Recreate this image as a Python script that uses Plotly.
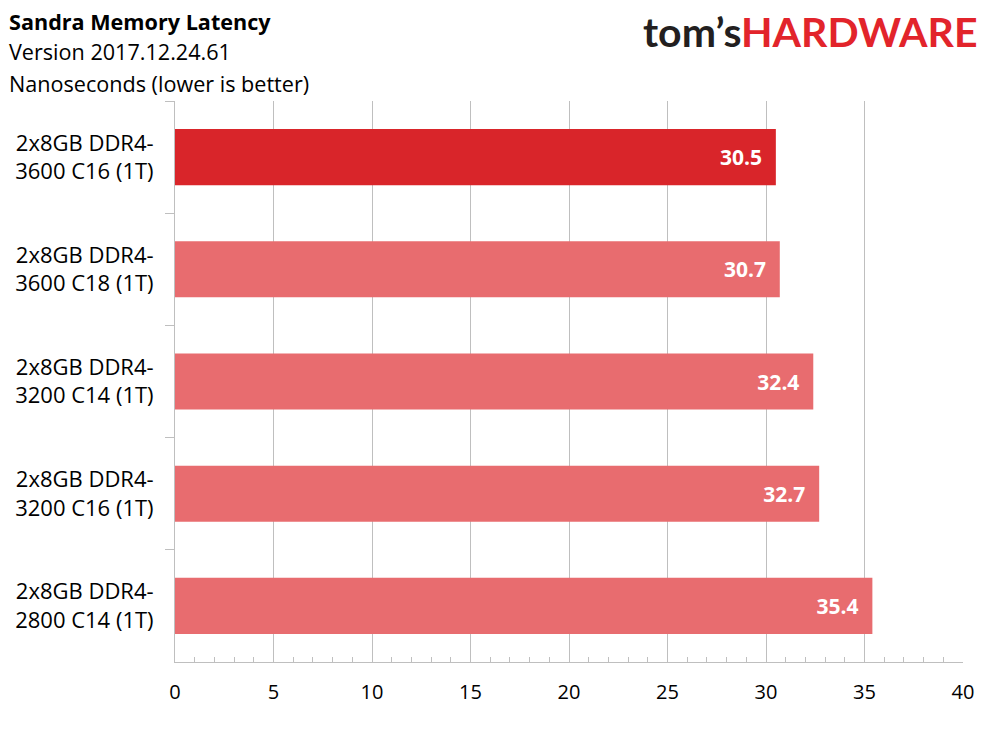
import plotly.graph_objects as go

CATEGORIES = [
    '2x8GB DDR4-<br>3600 C16 (1T)',
    '2x8GB DDR4-<br>3600 C18 (1T)',
    '2x8GB DDR4-<br>3200 C14 (1T)',
    '2x8GB DDR4-<br>3200 C16 (1T)',
    '2x8GB DDR4-<br>2800 C14 (1T)',
]
LATENCY_NS = [30.5, 30.7, 32.4, 32.7, 35.4]
HIGHLIGHT = [True, False, False, False, False]
TITLE_LINES = ['<b>Sandra Memory Latency</b>', 'Version 2017.12.24.61', 'Nanoseconds (lower is better)']

RED = 'rgb(217,37,42)'
PINK = 'rgb(232,108,111)'
GREY = 'rgb(191,191,191)'
FONT = 'Open Sans'

# page body has a small margin, so the margins are shifted to compensate
W, H = 989, 742
OX, OY = 7, 8
ML, MR, MT, MB = 167, 34, 93, 88
PW, PH = W - ML - MR, H - MT - MB


def px(xs, ys):
    # screen pixel -> paper coords
    return (xs - OX - ML) / PW, 1 + (MT - (ys - OY)) / PH


colors = [RED if h else PINK for h in HIGHLIGHT]

fig = go.Figure(
    go.Bar(
        x=LATENCY_NS,
        y=CATEGORIES,
        orientation='h',
        marker=dict(color=colors, line=dict(width=0)),
        width=0.5,
        text=[f'{v:.1f}\u00a0\u00a0' for v in LATENCY_NS],
        textposition='inside',
        insidetextanchor='end',
        textfont=dict(family=FONT, size=21, color='white', weight='bold'),
        cliponaxis=False,
    )
)

fig.update_layout(
    width=W,
    height=H,
    margin=dict(l=ML, r=MR, t=MT, b=MB),
    plot_bgcolor='white',
    paper_bgcolor='white',
    showlegend=False,
    font=dict(family=FONT, size=20, color='black'),
    uniformtext=dict(minsize=10, mode='show'),
)

fig.update_xaxes(
    automargin=False,
    range=[0, 40],
    dtick=5,
    showgrid=True,
    gridcolor=GREY,
    gridwidth=1,
    zeroline=False,
    showline=True,
    linecolor=GREY,
    ticks='',
    tickfont=dict(size=20),
    ticklabelstandoff=12,
    minor=dict(dtick=1, ticks='inside', ticklen=5, tickcolor=GREY, showgrid=False),
    fixedrange=True,
)

fig.update_yaxes(
    automargin=False,
    autorange='reversed',
    showline=True,
    linecolor=GREY,
    ticks='outside',
    tickson='boundaries',
    ticklen=9,
    tickcolor=GREY,
    showgrid=False,
    tickfont=dict(size=22),
    ticklabelstandoff=16,
)

for line, ys in zip(TITLE_LINES, [22, 52, 83]):
    ax, ay = px(6, ys)
    fig.add_annotation(
        xref='paper', yref='paper', x=ax, y=ay,
        xanchor='left', yanchor='middle', align='left', showarrow=False,
        text=line, font=dict(family=FONT, size=21.6, color='black'),
    )

lx, ly = px(979, 32)
fig.add_annotation(
    xref='paper', yref='paper', x=lx, y=ly,
    xanchor='right', yanchor='middle', showarrow=False,
    text="<span style='color:#231f20'>tom\u2019s</span><span style='color:#e2242b'>HARDWARE</span>",
    font=dict(family='Lato', size=41, weight='bold'),
)

fig.write_html('out.html')
